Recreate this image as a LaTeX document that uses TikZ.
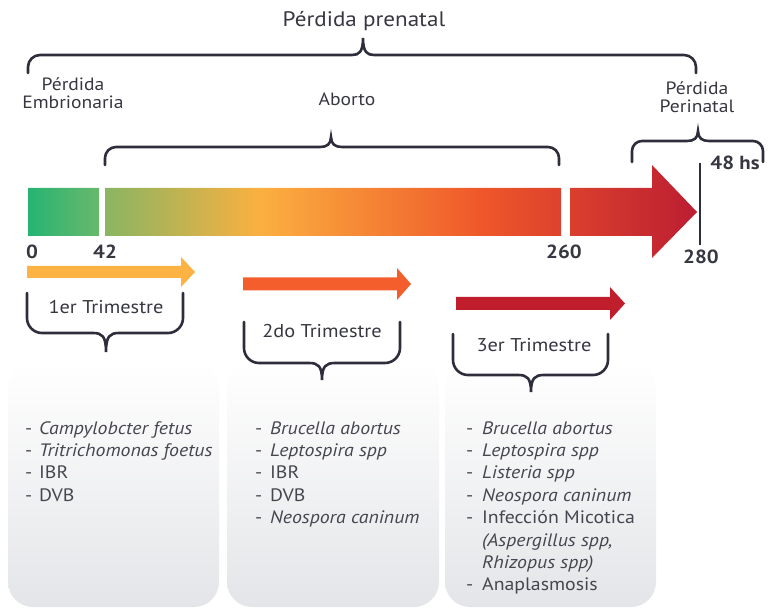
\documentclass[tikz,border=0pt]{standalone}
\usepackage{fontspec}
\setmainfont[FakeStretch=1.1]{PT Sans}
\definecolor{cgA}{RGB}{38,180,115}
\definecolor{cgB}{RGB}{105,184,108}
\definecolor{cgC}{RGB}{138,181,98}
\definecolor{cgD}{RGB}{251,176,64}
\definecolor{cgE}{RGB}{239,88,42}
\definecolor{cgF}{RGB}{188,29,50}
\definecolor{bracec}{RGB}{45,45,60}
\definecolor{txtc}{RGB}{55,55,65}
\definecolor{lstc}{RGB}{70,70,80}
\definecolor{boxg}{RGB}{228,229,232}
\definecolor{ayel}{RGB}{253,179,67}
\definecolor{aora}{RGB}{244,93,44}
\definecolor{ared}{RGB}{193,30,45}
\pgfdeclarehorizontalshading{barshade}{100bp}{color(0bp)=(cgA); color(25bp)=(cgA); color(30.31bp)=(cgB); color(30.75bp)=(cgC); color(42.34bp)=(cgD); color(58.78bp)=(cgE); color(75bp)=(cgF); color(100bp)=(cgF)}
\newcommand\upbrace[7]{%
\draw[bracestyle] (#1,#5) -- (#1,#4+#7) .. controls (#1,#4+0.45*#7) and (#1+0.45*#7,#4) .. (#1+#7,#4)
 -- (#3-11,#4) .. controls (#3-4,#4) and (#3,#4-3) .. (#3,#6)
 .. controls (#3,#4-3) and (#3+4,#4) .. (#3+11,#4)
 -- (#2-#7,#4) .. controls (#2-0.45*#7,#4) and (#2,#4+0.45*#7) .. (#2,#4+#7) -- (#2,#5);}
\newcommand\dnbrace[7]{%
\draw[bracestyle] (#1,#4) -- (#1,#5-#7) .. controls (#1,#5-0.45*#7) and (#1+0.45*#7,#5) .. (#1+#7,#5)
 -- (#3-13,#5) .. controls (#3-4,#5) and (#3,#5+3) .. (#3,#6)
 .. controls (#3,#5+3) and (#3+4,#5) .. (#3+13,#5)
 -- (#2-#7,#5) .. controls (#2-0.45*#7,#5) and (#2,#5-0.45*#7) .. (#2,#5-#7) -- (#2,#4);}
\newcommand\li[5]{%
\node[lst] (#1d) at (#2,#4) {-};
\node[lst] (#1) at (#3,#4) {#5};}
\begin{document}
\begin{tikzpicture}[x=1pt,y=-1pt,
  bracestyle/.style={draw=bracec,line width=2.6pt,line cap=round},
  ttl/.style={text=txtc,font=\fontsize{21}{23}\selectfont,inner sep=0pt},
  hdr/.style={text=txtc,font=\fontsize{17.8}{17.5}\selectfont,inner sep=0pt,align=center},
  trim/.style={text=txtc,font=\fontsize{18.5}{20}\selectfont,inner sep=0pt},
  num/.style={text=txtc,font=\fontsize{19}{20}\selectfont\bfseries,inner sep=0pt},
  lst/.style={text=lstc,font=\fontsize{18}{20}\selectfont,inner sep=0pt,anchor=base west},
  boxstyle/.style={top color=white,bottom color=boxg,rounded corners=25pt}]
\useasboundingbox (0,0) rectangle (768,609);
% gray boxes
\shade[boxstyle] (8,362) rectangle (219,607);
\shade[boxstyle] (227,362) rectangle (439,607);
\shade[boxstyle] (445,362) rectangle (656,607);
% gradient bar
\shade[shading=barshade] (28,188) rectangle (99,236)
  (105,188) rectangle (561,236)
  (570,188) -- (652,188) -- (652,165) -- (697,212) -- (652,258) -- (652,236) -- (570,236) -- cycle;
% end line
\coordinate (vt) at (700,163);
\coordinate (vb) at (700,245);
\draw[draw=bracec,line width=2.4pt] (vt) -- (vb);
% trimester arrows
\fill[ayel] (27,266) -- (181,266) -- (181,257) -- (195,272) -- (181,287) -- (181,278) -- (27,278) -- cycle;
\fill[aora] (243,277.5) -- (397,277.5) -- (397,268) -- (411,284) -- (397,300) -- (397,290.5) -- (243,290.5) -- cycle;
\fill[ared] (456,297) -- (610,297) -- (610,287) -- (625,303.5) -- (610,320) -- (610,310) -- (456,310) -- cycle;
% braces
\upbrace{28}{696}{363}{55}{73}{38}{12}
\upbrace{105}{559}{331}{147}{165}{137}{11}
\upbrace{632}{763}{698}{141}{162}{131}{10}
\dnbrace{27}{183}{106}{293}{333}{352}{15}
\dnbrace{244}{400}{322}{322}{363}{380}{15}
\dnbrace{453}{608}{531}{334}{375}{392}{15}
% headings
\node[ttl] (prenatal) at (364,21) {Pérdida prenatal};
\node[hdr] (embr) at (73,93) {Pérdida\\Embrionaria};
\node[hdr] (aborto) at (347,99) {Aborto};
\node[hdr] (peri) at (697,97) {Pérdida\\Perinatal};
% numbers
\node[num] (n0) at (32,252) {0};
\node[num] (n42) at (105,252) {42};
\node[num] (n260) at (564,252) {260};
\node[num] (n280) at (701,257) {280};
\node[num] (n48) at (735,163) {48 hs};
% trimester labels
\node[trim] (t1) at (106,307) {1er Trimestre};
\node[trim] (t2) at (322,331) {2do Trimestre};
\node[trim] (t3) at (534,345) {3er Trimestre};
% lists
\li{a1}{25}{39}{434}{\textit{Campylobcter fetus}}
\li{a2}{25}{39}{456.4}{\textit{Tritrichomonas foetus}}
\li{a3}{25}{39}{478.8}{IBR}
\li{a4}{25}{39}{501.2}{DVB}
\li{b1}{255}{270}{434}{\textit{Brucella abortus}}
\li{b2}{255}{270}{456.4}{\textit{Leptospira spp}}
\li{b3}{255}{270}{478.8}{IBR}
\li{b4}{255}{270}{501.2}{DVB}
\li{b5}{255}{270}{523.6}{\textit{Neospora caninum}}
\li{c1}{466}{482}{434}{\textit{Brucella abortus}}
\li{c2}{466}{482}{456.4}{\textit{Leptospira spp}}
\li{c3}{466}{482}{478.8}{\textit{Listeria spp}}
\li{c4}{466}{482}{501.2}{\textit{Neospora caninum}}
\li{c5}{466}{482}{523.6}{Infección Micotica}
\node[lst] (c6) at (482,546) {\textit{(Aspergillus spp,}};
\node[lst] (c7) at (482,568.4) {\textit{Rhizopus spp)}};
\li{c8}{466}{482}{590.8}{Anaplasmosis}
\end{tikzpicture}
\end{document}
